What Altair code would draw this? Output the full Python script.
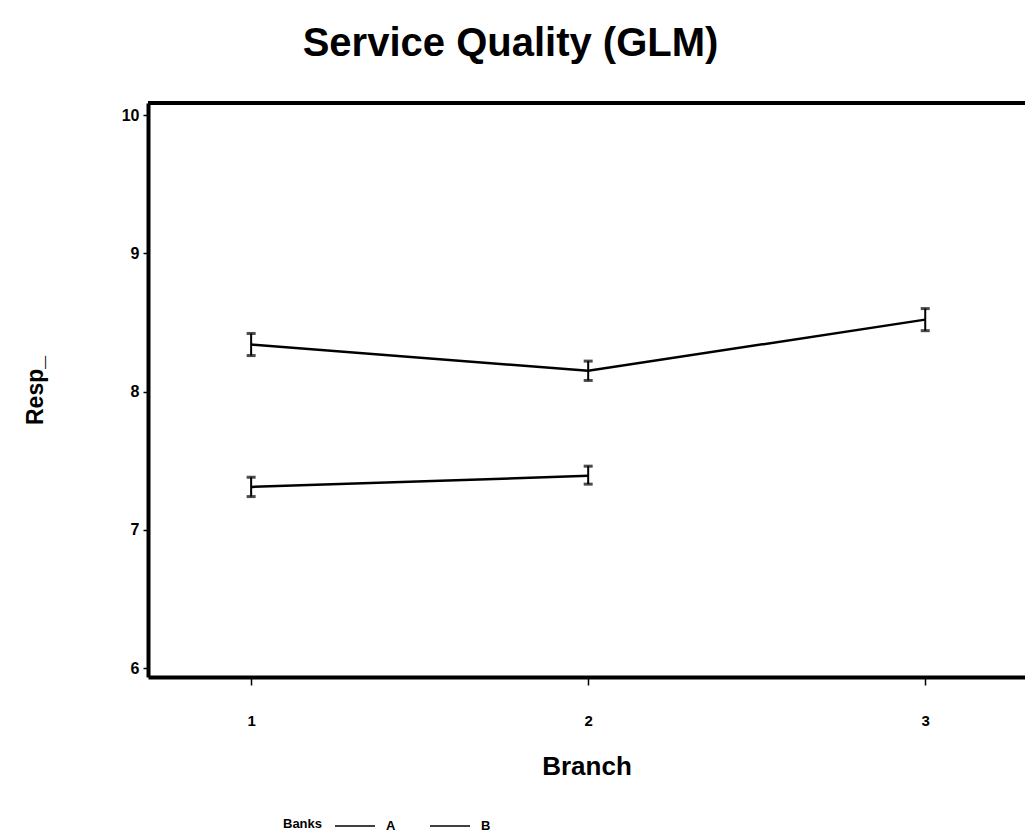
import altair as alt
import pandas as pd

# Least-squares means of the service-quality response by branch, per bank
banks = ["A", "A", "A", "B", "B"]
branch = [1, 2, 3, 1, 2]
resp_mean = [8.34, 8.15, 8.52, 7.31, 7.39]
resp_lower = [8.26, 8.08, 8.44, 7.24, 7.33]
resp_upper = [8.42, 8.22, 8.60, 7.38, 7.46]

y_ticks = [6, 7, 8, 9, 10]
x_ticks = [1, 2, 3]
Y_DOMAIN = [5.935, 10.087]
X_DOMAIN = [0.694, 3.296]

df = pd.DataFrame({
    "Banks": banks,
    "Branch": branch,
    "Resp_": resp_mean,
    "lo": resp_lower,
    "hi": resp_upper,
})

FONT = "Liberation Sans"

x_scale = alt.Scale(domain=X_DOMAIN, nice=False, zero=False)
y_scale = alt.Scale(domain=Y_DOMAIN, nice=False, zero=False)

x_axis = alt.Axis(
    values=x_ticks, format="d", title="Branch", grid=False,
    domainWidth=4, domainColor="black", tickColor="black", tickSize=8, tickWidth=1.5,
    labelFont=FONT, labelFontSize=15, labelFontWeight="bold", labelColor="black",
    labelPadding=28, titleFont=FONT, titleFontSize=26, titleFontWeight="bold",
    titleColor="black", titleBaseline="middle", titleY=89,
)
y_axis = alt.Axis(
    values=y_ticks, format="d", title="Resp_", grid=False,
    domainWidth=4, domainColor="black", tickColor="black", tickSize=5, tickWidth=1.5,
    labelFont=FONT, labelFontSize=16, labelFontWeight="bold", labelColor="black",
    labelPadding=4, titleFont=FONT, titleFontSize=23, titleFontWeight="bold",
    titleColor="black", titleBaseline="middle", titleX=-113,
)

base = alt.Chart(df)

lines = base.mark_line(strokeWidth=2.5).encode(
    x=alt.X("Branch:Q", scale=x_scale, axis=x_axis),
    y=alt.Y("Resp_:Q", scale=y_scale, axis=y_axis),
    color=alt.Color(
        "Banks:N",
        scale=alt.Scale(domain=["A", "B"], range=["black", "black"]),
        legend=alt.Legend(
            title="Banks", orient="none", direction="horizontal",
            legendX=135, legendY=712, titleOrient="left", titleBaseline="middle",
            titleFont=FONT, titleFontSize=13, titleFontWeight="bold", titleColor="black",
            titlePadding=21, labelFont=FONT, labelFontSize=13, labelFontWeight="bold",
            labelColor="black", labelOffset=20, symbolType="M-2,0H2", symbolSize=400,
            symbolStrokeWidth=1.5, symbolStrokeColor="black", columnPadding=31, padding=0,
        ),
    ),
    detail="Banks:N",
)

bars = base.mark_rule(color="black", strokeWidth=2).encode(
    x="Branch:Q", y="lo:Q", y2="hi:Q",
)
caps_lo = base.mark_tick(color="black", orient="horizontal", size=9, thickness=3).encode(
    x="Branch:Q", y="lo:Q",
)
caps_hi = base.mark_tick(color="black", orient="horizontal", size=9, thickness=3).encode(
    x="Branch:Q", y="hi:Q",
)

# top edge of the plot frame
top_edge = alt.Chart(pd.DataFrame({"top": [Y_DOMAIN[1]]})).mark_rule(
    color="black", strokeWidth=4
).encode(y=alt.Y("top:Q"))

chart = alt.layer(lines, bars, caps_lo, caps_hi, top_edge).properties(
    width=877,
    height=574,
    autosize=alt.AutoSizeParams(type="none"),
    padding={"left": 148, "top": 103, "right": 0, "bottom": 159},
    title=alt.TitleParams(
        "Service Quality (GLM)", font=FONT, fontSize=40, fontWeight="bold",
        color="black", anchor="middle", frame="group", dx=-76, offset=5,
        baseline="alphabetic",
    ),
).configure_view(stroke=None).configure(background="white")

chart.save("out.html", embed_options={"renderer": "svg", "actions": False})
